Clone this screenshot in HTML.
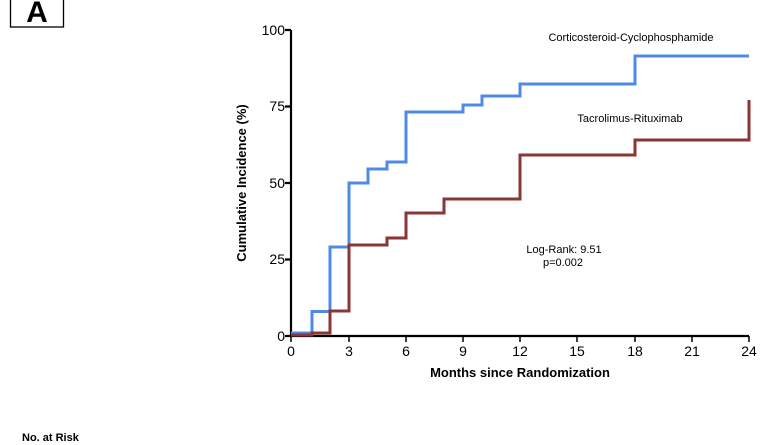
<!DOCTYPE html>
<html><head><meta charset="utf-8"><style>
html,body{margin:0;padding:0;background:#fff;}
svg{display:block;font-family:"Liberation Sans",sans-serif;}
</style></head><body>
<svg width="772" height="445" viewBox="0 0 772 445">
<rect x="10.5" y="-5" width="53" height="32" fill="none" stroke="#000" stroke-width="1.3"/>
<text x="37" y="22" font-size="30" font-weight="bold" text-anchor="middle">A</text>
<g stroke="#000" stroke-width="2.2" fill="none">
<path d="M291,30 V336 H749"/>
<path d="M285,30H291M285,106.5H291M285,183H291M285,259.5H291M285,336H291"/>
<path d="M291,336v6M349,336v6M406,336v6M463,336v6M520,336v6M577,336v6M635,336v6M692,336v6M749,336v6" stroke-width="1.5"/>
</g>
<g font-size="14" text-anchor="end">
<text x="285" y="35">100</text><text x="285" y="111">75</text><text x="285" y="188">50</text><text x="285" y="264">25</text><text x="285" y="341">0</text>
</g>
<g font-size="14" text-anchor="middle">
<text x="291" y="356">0</text><text x="349" y="356">3</text><text x="406" y="356">6</text><text x="463" y="356">9</text><text x="520" y="356">12</text><text x="577" y="356">15</text><text x="635" y="356">18</text><text x="692" y="356">21</text><text x="749" y="356">24</text>
</g>
<text x="520" y="377" font-size="13" font-weight="bold" text-anchor="middle">Months since Randomization</text>
<text transform="translate(246,183) rotate(-90)" font-size="13" font-weight="bold" text-anchor="middle">Cumulative Incidence (%)</text>
<path d="M291,333H312V311.5H330V247H349V183H368V169H387V162H406V112H463V105H482V96H520V84H635V56H749" fill="none" stroke="#5089e6" stroke-width="3"/>
<path d="M291,335H312V333H330V311H349V245H387V238H406V213H444V199H520V155H635V140H749V100" fill="none" stroke="#8b3535" stroke-width="3"/>
<text x="631" y="41" font-size="11" text-anchor="middle">Corticosteroid-Cyclophosphamide</text>
<text x="630" y="122" font-size="11" text-anchor="middle">Tacrolimus-Rituximab</text>
<text x="564" y="253" font-size="11" text-anchor="middle">Log-Rank: 9.51</text>
<text x="563" y="266" font-size="11" text-anchor="middle">p=0.002</text>
<text x="22" y="441" font-size="11" font-weight="bold">No. at Risk</text>
</svg>
</body></html>
